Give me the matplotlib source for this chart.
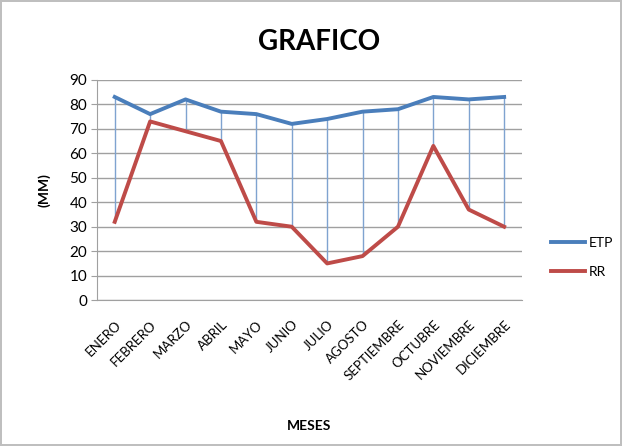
import numpy as np
import matplotlib.pyplot as plt

plt.rcParams['font.family'] = ['Lato', 'DejaVu Sans']

meses = ['ENERO', 'FEBRERO', 'MARZO', 'ABRIL', 'MAYO', 'JUNIO', 'JULIO',
         'AGOSTO', 'SEPTIEMBRE', 'OCTUBRE', 'NOVIEMBRE', 'DICIEMBRE']
etp = [83, 76, 82, 77, 76, 72, 74, 77, 78, 83, 82, 83]
rr = [32, 73, 69, 65, 32, 30, 15, 18, 30, 63, 37, 30]
y_ticks = list(range(0, 100, 10))

fig = plt.figure(figsize=(6.22, 4.46), dpi=100)
fig.patch.set_edgecolor('#bfbfbf')
fig.patch.set_linewidth(1.5)
ax = fig.add_axes([0.156, 0.327, 0.683, 0.494])

x = np.arange(len(meses))

# high-low lines between the two series
ax.vlines(x, rr, etp, color='#7fa3d0', linewidth=1.0, zorder=2)
ax.plot(x, etp, color='#4a7ebb', linewidth=2.8, label='ETP', zorder=3)
ax.plot(x, rr, color='#be4b48', linewidth=2.8, label='RR', zorder=3)

ax.set_xlim(-0.5, len(meses) - 0.5)
ax.set_ylim(0, 90)
ax.set_yticks(y_ticks)
ax.set_yticklabels([str(v) for v in y_ticks], fontsize=11)
ax.set_xticks(x)
ax.set_xticklabels(meses, rotation=45, ha='right', va='top',
                   rotation_mode='anchor', fontsize=9.5)
ax.grid(axis='y', color='#a0a0a0', linewidth=1.0)
ax.set_axisbelow(True)
ax.tick_params(axis='x', length=0, pad=13)
ax.tick_params(axis='y', length=4, color='#a0a0a0', pad=3)

for s in ['top', 'right']:
    ax.spines[s].set_visible(False)
for s in ['left', 'bottom']:
    ax.spines[s].set_color('#a0a0a0')

fig.text(0.513, 0.905, 'GRAFICO', fontsize=20, fontweight='bold',
         ha='center', va='center')
ax.set_ylabel('(MM)', fontsize=10, fontweight='bold', labelpad=14)
ax.set_xlabel('MESES', fontsize=10, fontweight='bold', labelpad=27)

ax.legend(loc='center left', bbox_to_anchor=(1.04, 0.195), frameon=False,
          fontsize=10, handlelength=2.4, labelspacing=1.2, handletextpad=0.3)

fig.savefig('out.png', dpi=100, edgecolor=fig.get_edgecolor())
